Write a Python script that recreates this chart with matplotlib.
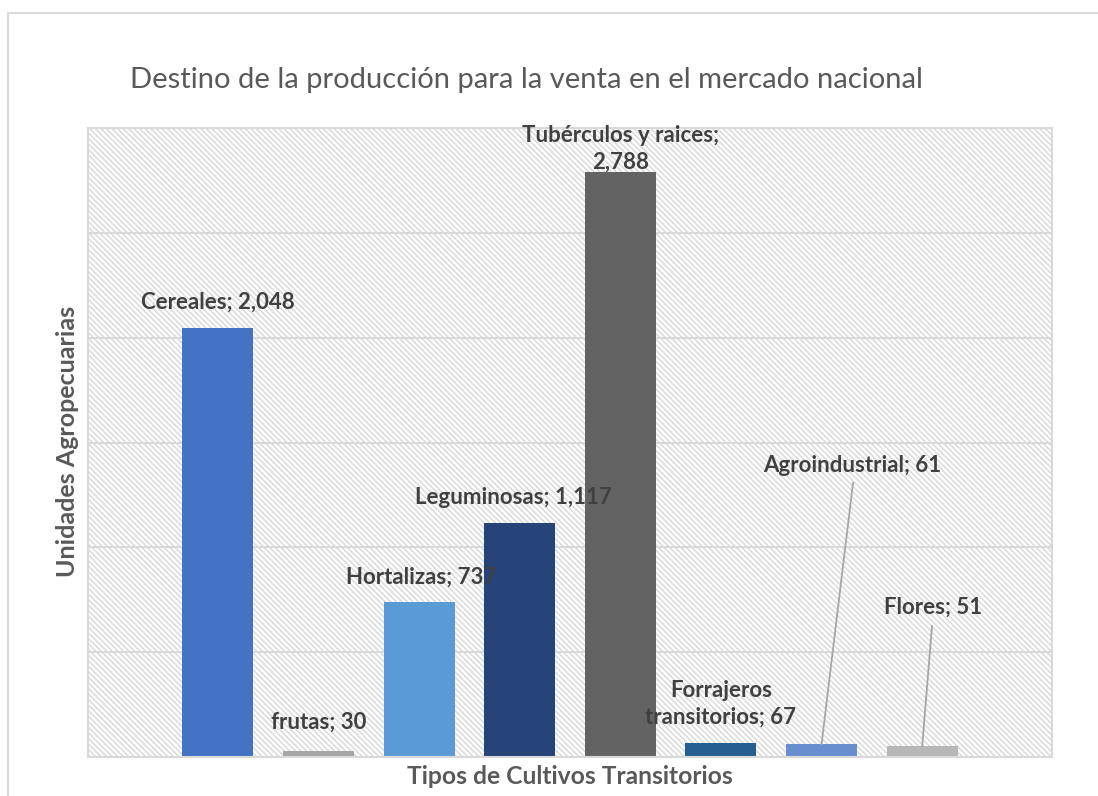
"""
Destino de la producción para la venta en el mercado nacional
Bar chart, Excel style (hatched plot area, labels above bars).
"""

import matplotlib
matplotlib.use("Agg")
import matplotlib.pyplot as plt
import matplotlib.patches as mpatches
from matplotlib.lines import Line2D
import numpy as np

plt.rcParams.update({
    "font.family": ["Lato", "DejaVu Sans"],
    "hatch.color": "#DADADA",
    "hatch.linewidth": 1.1,
})

categories = ["Cereales", "frutas", "Hortalizas", "Leguminosas",
              "Tubérculos y raices", "Forrajeros transitorios",
              "Agroindustrial", "Flores"]
values = [2048, 30, 737, 1117, 2788, 67, 61, 51]
colors = ["#4472C4", "#A5A5A5", "#5B9BD5", "#264478",
          "#636363", "#255E91", "#698ED0", "#B7B7B7"]

GRID = "#D9D9D9"
TEXT = "#404040"
AXTXT = "#595959"

fig = plt.figure(figsize=(10.98, 7.96), dpi=100)
ax = fig.add_axes([88 / 1098, 39 / 796, 964 / 1098, 629 / 796])

# hatched plot area background
bg = mpatches.Rectangle((0, 0), 1, 1, transform=ax.transAxes, facecolor="white",
                        edgecolor="#DADADA", linewidth=0, hatch="\\" * 6, zorder=0.1)
ax.add_patch(bg)

x = np.arange(len(categories))
ax.bar(x, values, width=0.705, color=colors, zorder=2)

ax.set_xlim(-1.29, len(categories) - 1 + 1.29)
ax.set_ylim(0, 3000)
ax.set_yticks(np.arange(0, 3001, 500))
ax.set_yticklabels([])
ax.set_xticks([])
ax.tick_params(axis="y", length=0)
ax.set_axisbelow(True)
ax.grid(axis="y", color=GRID, linewidth=1.5)
for s in ax.spines.values():
    s.set_color(GRID)
    s.set_linewidth(1.5)

# data labels
def fmt(v):
    return f"{v:,}"

lab_kw = dict(ha="center", va="center", fontsize=16, fontweight="bold", color=TEXT, zorder=5)

def data_y(py):
    # pixel row (from top) -> data value
    return (757 - py) / 629 * 3000

def data_x(px):
    return -1.29 + (px - 88) / 964 * (len(categories) - 1 + 2.58)

ax.text(x[0], data_y(302), f"{categories[0]}; {fmt(values[0])}", **lab_kw)
ax.text(x[1], data_y(722), f"{categories[1]}; {fmt(values[1])}", **lab_kw)
ax.text(data_x(421), data_y(577), f"{categories[2]}; {fmt(values[2])}", **lab_kw)
ax.text(data_x(513), data_y(497), f"{categories[3]}; {fmt(values[3])}", **lab_kw)
ax.text(x[4], data_y(149), f"{categories[4]};\n{fmt(values[4])}", linespacing=1.35, **lab_kw)
ax.text(x[5], data_y(704), "Forrajeros\ntransitorios; " + fmt(values[5]), linespacing=1.35, **lab_kw)
ax.text(data_x(852), data_y(466), f"{categories[6]}; {fmt(values[6])}", **lab_kw)
ax.text(data_x(933), data_y(607), f"{categories[7]}; {fmt(values[7])}", **lab_kw)

# leader lines for the small bars
ax.plot([data_x(853), x[6]], [data_y(483), values[6]], color="#A6A6A6", lw=1.3, zorder=3)
ax.plot([data_x(932), x[7]], [data_y(626), values[7]], color="#A6A6A6", lw=1.3, zorder=3)

# axis titles
fig.text(526 / 1098, 1 - 80 / 796, "Destino de la producción para la venta en el mercado nacional",
         ha="center", va="center", fontsize=21, color=AXTXT)
fig.text(570 / 1098, 1 - 777 / 796, "Tipos de Cultivos Transitorios",
         ha="center", va="center", fontsize=17.7, fontweight="bold", color=AXTXT)
fig.text(68 / 1098, 1 - 441 / 796, "Unidades Agropecuarias", rotation=90,
         ha="center", va="center", fontsize=18, fontweight="bold", color=AXTXT)

# chart frame (cropped on right and bottom)
fig.add_artist(Line2D([8 / 1098, 1.0], [1 - 13 / 796, 1 - 13 / 796], transform=fig.transFigure,
                      color=GRID, lw=1.5))
fig.add_artist(Line2D([8 / 1098, 8 / 1098], [0.0, 1 - 13 / 796], transform=fig.transFigure,
                      color=GRID, lw=1.5))

fig.savefig("out.png", dpi=100)
